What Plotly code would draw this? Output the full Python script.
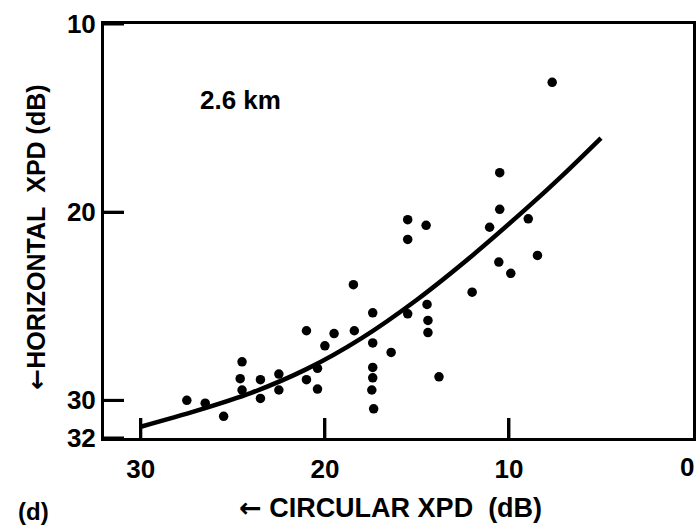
import plotly.graph_objects as go

# Measured points: circular XPD (x, dB) vs horizontal XPD (y, dB)
circ_xpd = [27.5, 26.5, 25.5, 24.5, 24.6, 24.5, 23.5, 23.5, 22.5, 22.5, 21.0, 21.0,
            20.4, 20.4, 20.0, 19.5, 18.45, 18.4, 17.4, 17.4, 17.4, 17.4, 17.45, 17.35,
            16.4, 15.5, 15.5, 14.5, 15.5, 14.45, 14.4, 14.4, 13.8, 12.0, 10.55, 9.9,
            11.05, 10.5, 8.95, 8.45, 7.65, 10.5]
horiz_xpd = [30.0, 30.15, 30.85, 27.95, 28.85, 29.45, 28.9, 29.9, 28.6, 29.45, 26.3, 28.9,
             28.3, 29.4, 27.1, 26.45, 23.85, 26.3, 25.35, 26.95, 28.25, 28.8, 29.45, 30.45,
             27.45, 20.4, 21.45, 20.7, 25.4, 24.9, 25.75, 26.4, 28.75, 24.25, 22.65, 23.25,
             20.8, 19.85, 20.35, 22.3, 13.1, 17.9]

# Fitted curve
curve_x = [30.0, 27.0, 24.0, 21.0, 18.0, 15.0, 12.0, 9.0, 7.0, 5.0]
curve_y = [31.4, 30.56, 29.6, 28.34, 26.69, 24.65, 22.31, 19.76, 17.96, 16.06]

x_ticks = [30, 20, 10]
y_ticks = [10, 20, 30, 32]
X_RANGE = [32, 0]
Y_RANGE = [32, 10]

FONT = "Liberation Sans, Arial, sans-serif"
ARROW = '<span style="font-family:DejaVu Sans">\u2190</span>'
PLOT_W, PLOT_H = 589, 414
TICK_PX = 20
tick_dx = TICK_PX * abs(X_RANGE[0] - X_RANGE[1]) / PLOT_W
tick_dy = TICK_PX * abs(Y_RANGE[0] - Y_RANGE[1]) / PLOT_H

# inward tick segments built from the tick arrays
tick_seg_x, tick_seg_y = [], []
for tv in x_ticks:
    tick_seg_x += [tv, tv, None]
    tick_seg_y += [Y_RANGE[0], Y_RANGE[0] - tick_dy, None]
for tv in y_ticks:
    tick_seg_x += [X_RANGE[0], X_RANGE[0] - tick_dx, None]
    tick_seg_y += [tv, tv, None]

fig = go.Figure()
fig.add_trace(go.Scatter(x=tick_seg_x, y=tick_seg_y, mode="lines",
                         line=dict(color="black", width=3), hoverinfo="skip",
                         showlegend=False, cliponaxis=False))
fig.add_trace(go.Scatter(x=curve_x, y=curve_y, mode="lines",
                         line=dict(color="black", width=4.5, shape="spline", smoothing=0.8),
                         hoverinfo="skip", showlegend=False))
fig.add_trace(go.Scatter(x=circ_xpd, y=horiz_xpd, mode="markers",
                         marker=dict(color="black", size=9.5), showlegend=False))

axis_common = dict(showgrid=False, zeroline=False, showline=True, mirror=True, automargin=False,
                   linecolor="black", linewidth=3, ticks="inside", ticklen=TICK_PX,
                   tickwidth=3, tickcolor="#000000",
                   tickfont=dict(family=FONT, size=26, color="black", weight="bold"))
fig.update_layout(
    xaxis=dict(range=X_RANGE, tickmode="array", tickvals=x_ticks,
               ticktext=[str(v) for v in x_ticks], ticklabelstandoff=6, **axis_common),
    yaxis=dict(range=Y_RANGE, tickmode="array", tickvals=y_ticks,
               ticktext=[str(v) for v in y_ticks], **axis_common),
)

# right-most x tick label sits at the plot edge
fig.add_annotation(text="0", x=0, y=0, xref="x", yref="paper", showarrow=False,
                   xanchor="right", yanchor="top", xshift=3, yshift=-12,
                   font=dict(family=FONT, size=26, color="black", weight="bold"))
fig.add_annotation(text="2.6 km", x=24.6, y=14.05, xref="x", yref="y", showarrow=False,
                   font=dict(family=FONT, size=26, color="black", weight="bold"))
fig.add_annotation(text=ARROW + "\u00a0CIRCULAR\u00a0XPD\u00a0\u00a0(dB)", x=0.487, y=-0.167,
                   xref="paper", yref="paper", showarrow=False, xanchor="center", yanchor="middle",
                   font=dict(family=FONT, size=27, color="black", weight="bold"))
fig.add_annotation(text=ARROW + "HORIZONTAL\u00a0\u00a0XPD\u00a0(dB)", x=-0.114, y=0.486,
                   xref="paper", yref="paper", showarrow=False, textangle=-90,
                   xanchor="center", yanchor="middle",
                   font=dict(family=FONT, size=25, color="black", weight="bold"))
fig.add_annotation(text="(d)", x=-0.119, y=-0.178, xref="paper", yref="paper",
                   showarrow=False, xanchor="center", yanchor="middle",
                   font=dict(family=FONT, size=24, color="black", weight="bold"))

fig.update_layout(width=699, height=527, plot_bgcolor="white", paper_bgcolor="white",
                  template="none",
                  margin=dict(l=104, r=6, t=24, b=89), showlegend=False)

fig.write_html("out.html", config={"displayModeBar": False},
               post_script="document.body.style.margin='0';document.body.style.overflow='hidden';")
